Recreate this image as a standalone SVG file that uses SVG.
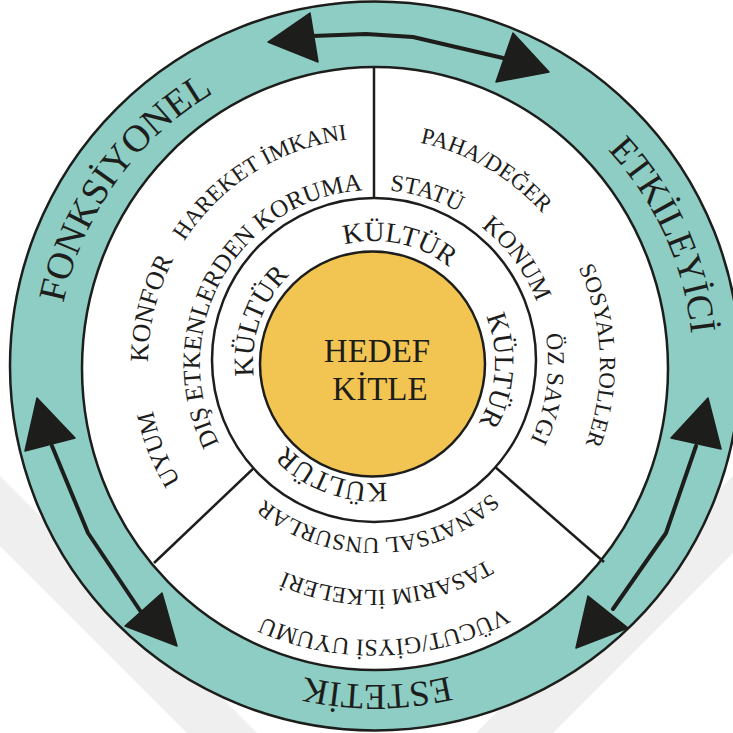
<svg xmlns="http://www.w3.org/2000/svg" width="733" height="733" viewBox="0 0 733 733">
<style>
.ln{stroke:#1d1d1b;stroke-width:2.5;}
.tx{font-family:"Liberation Serif","Times New Roman",serif;fill:#1d1d1b;text-anchor:middle;}
.shaft{fill:none;stroke:#1d1d1b;stroke-width:4;stroke-linejoin:round;stroke-linecap:round;}
.head{fill:#1d1d1b;stroke:#1d1d1b;stroke-width:1.5;stroke-linejoin:round;}
.wm{fill:#efefef;}
</style>
<defs>
<path id="arc318" d="M375 685A318 318 0 0 1 375 49A318 318 0 0 1 375 685A318 318 0 0 1 375 49A318 318 0 0 1 375 685"/>
<path id="arc276" d="M374 640A276 276 0 0 1 374 88A276 276 0 0 1 374 640A276 276 0 0 1 374 88A276 276 0 0 1 374 640"/>
<path id="arc226" d="M374 590A226 226 0 0 1 374 138A226 226 0 0 1 374 590A226 226 0 0 1 374 138A226 226 0 0 1 374 590"/>
<path id="arc174" d="M374 538A174 174 0 0 1 374 190A174 174 0 0 1 374 538A174 174 0 0 1 374 190A174 174 0 0 1 374 538"/>
<path id="arc121" d="M374 483A121 121 0 0 1 374 241A121 121 0 0 1 374 483A121 121 0 0 1 374 241A121 121 0 0 1 374 483"/>
</defs>
<rect width="733" height="733" fill="#ffffff"/>
<g id="watermark">
<polygon class="wm" points="0,476 0,546 187,733 257,733"/>
<polygon class="wm" points="733,476 733,553 553,733 476,733"/>
</g>

<g id="outer-ring">
<ellipse cx="375" cy="366" rx="365" ry="364.5" fill="#8dcdc3" class="ln"/>
<text class="tx" font-size="38"><textPath href="#arc318" startOffset="696.5">FONKSİYONEL</textPath></text>
<text class="tx" font-size="37"><textPath href="#arc318" startOffset="1362">ETKİLEYİCİ</textPath></text>
<text class="tx" font-size="36"><textPath href="#arc318" startOffset="1995.3">ESTETİK</textPath></text>
</g>

<g id="inner-disc">
<ellipse cx="375" cy="368.5" rx="293" ry="301.5" fill="#ffffff" class="ln"/>
</g>

<g id="dividers">
<line x1="374" y1="68" x2="374" y2="200" class="ln" stroke-width="2"/>
<line x1="154" y1="563" x2="256" y2="466" class="ln" stroke-width="2"/>
<line x1="604" y1="562" x2="494" y2="466" class="ln" stroke-width="2"/>
</g>

<g id="sector-fonksiyonel">
<text class="tx" font-size="23"><textPath href="#arc226" startOffset="583.8">HAREKET İMKANI</textPath></text>
<text class="tx" font-size="25"><textPath href="#arc174" startOffset="362.9">DIŞ ETKENLERDEN KORUMA</textPath></text>
<text class="tx" font-size="26"><textPath href="#arc226" startOffset="410.2">KONFOR</textPath></text>
<text class="tx" font-size="25"><textPath href="#arc226" startOffset="1689.4">UYUM</textPath></text>
</g>

<g id="sector-etkileyici">
<text class="tx" font-size="23"><textPath href="#arc226" startOffset="827.9">PAHA/DEĞER</textPath></text>
<text class="tx" font-size="24"><textPath href="#arc174" startOffset="598.7">STATÜ</textPath></text>
<text class="tx" font-size="25"><textPath href="#arc174" startOffset="709.0">KONUM</textPath></text>
<text class="tx" font-size="23"><textPath href="#arc226" startOffset="1055.9">SOSYAL ROLLER</textPath></text>
<text class="tx" font-size="24"><textPath href="#arc174" startOffset="844.1">ÖZ SAYGI</textPath></text>
</g>

<g id="sector-estetik">
<text class="tx" font-size="23"><textPath href="#arc174" startOffset="1088.1">SANATSAL UNSURLAR</textPath></text>
<text class="tx" font-size="23"><textPath href="#arc226" startOffset="1406.2">TASARIM İLKELERİ</textPath></text>
<text class="tx" font-size="24"><textPath href="#arc276" startOffset="1722.5">VÜCUT/GİYSİ UYUMU</textPath></text>
</g>

<g id="kultur-ring">
<circle cx="374" cy="360" r="162" fill="#ffffff" class="ln"/>
<text class="tx" font-size="28"><textPath href="#arc121" startOffset="405.5">KÜLTÜR</textPath></text>
<text class="tx" font-size="28"><textPath href="#arc121" startOffset="231.2">KÜLTÜR</textPath></text>
<text class="tx" font-size="28"><textPath href="#arc121" startOffset="578.4">KÜLTÜR</textPath></text>
<text class="tx" font-size="28"><textPath href="#arc121" startOffset="802.5">KÜLTÜR</textPath></text>
</g>

<g id="hedef-kitle">
<circle cx="372.5" cy="364" r="112.5" fill="#f2c553" class="ln" stroke-width="2"/>
<text class="tx" font-size="33" x="377" y="362">HEDEF</text>
<text class="tx" font-size="33" x="380" y="400">KİTLE</text>
</g>

<g id="connectors">
<path class="shaft" d="M312 36L366 34L413 37L503 58"/>
<polygon class="head" points="268,42 310,13 318,62"/>
<polygon class="head" points="549,72 513,33 496,82"/>
<path class="shaft" d="M52 446L88 533L141 612"/>
<polygon class="head" points="37,398 25,451 75,438"/>
<polygon class="head" points="177,646 125,626 162,593"/>
<path class="shaft" d="M696 446L666 533L613 609"/>
<polygon class="head" points="708,398 671,438 721,449"/>
<polygon class="head" points="576,648 588,596 628,628"/>
</g>
</svg>
